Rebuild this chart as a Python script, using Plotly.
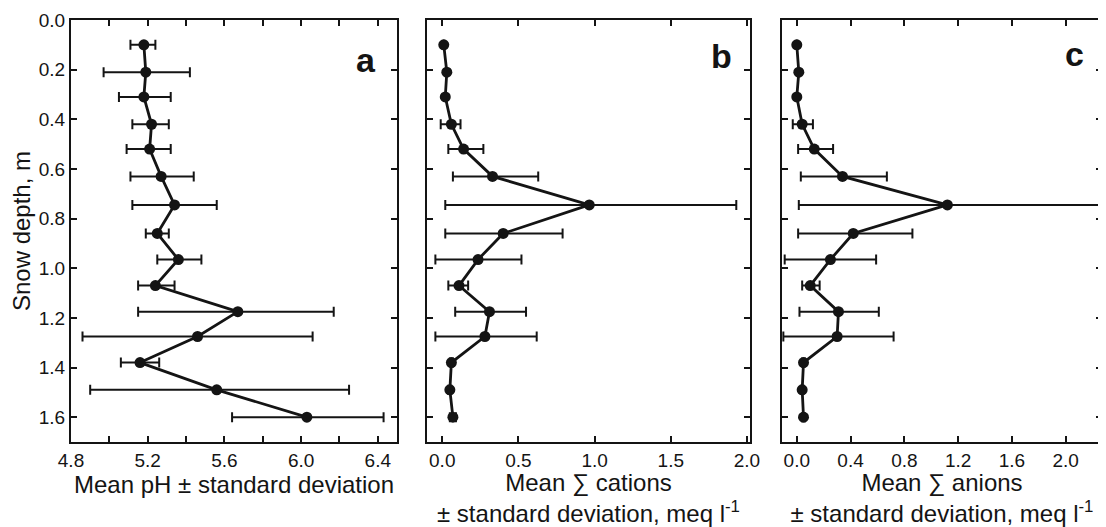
import numpy as np
import plotly.graph_objects as go

# ---- data ----
depth = [0.10, 0.21, 0.31, 0.42, 0.52, 0.63, 0.745, 0.86, 0.965, 1.07, 1.175, 1.275, 1.38, 1.49, 1.60]

ph_mean = [5.18, 5.19, 5.18, 5.22, 5.21, 5.27, 5.34, 5.25, 5.36, 5.24, 5.67, 5.46, 5.16, 5.56, 6.03]
ph_lo   = [5.11, 4.97, 5.05, 5.12, 5.09, 5.11, 5.12, 5.19, 5.25, 5.15, 5.15, 4.86, 5.06, 4.90, 5.64]
ph_hi   = [5.24, 5.42, 5.32, 5.31, 5.32, 5.44, 5.56, 5.31, 5.48, 5.34, 6.17, 6.06, 5.26, 6.25, 6.43]

cat_mean = [0.01, 0.03, 0.02, 0.06, 0.14, 0.33, 0.965, 0.40, 0.235, 0.11, 0.31, 0.28, 0.06, 0.05, 0.07]
cat_lo   = [0.01, 0.03, 0.02, -0.01, 0.04, 0.07, 0.02, 0.02, -0.045, 0.04, 0.085, -0.045, 0.05, 0.04, 0.05]
cat_hi   = [0.01, 0.03, 0.02, 0.12, 0.27, 0.63, 1.93, 0.79, 0.52, 0.17, 0.55, 0.62, 0.07, 0.06, 0.09]

an_mean = [0.00, 0.015, 0.00, 0.04, 0.13, 0.34, 1.12, 0.42, 0.25, 0.10, 0.31, 0.30, 0.05, 0.04, 0.05]
an_lo   = [0.00, 0.015, 0.00, -0.03, 0.01, 0.03, 0.015, 0.01, -0.09, 0.04, 0.02, -0.10, 0.04, 0.03, 0.04]
an_hi   = [0.00, 0.015, 0.00, 0.12, 0.27, 0.67, 2.25, 0.86, 0.59, 0.17, 0.61, 0.72, 0.06, 0.05, 0.06]

y_ticks = [0.0, 0.2, 0.4, 0.6, 0.8, 1.0, 1.2, 1.4, 1.6]
a_ticks = [4.8, 5.0, 5.2, 5.4, 5.6, 5.8, 6.0, 6.2, 6.4]
a_text = ["4.8", "", "5.2", "", "5.6", "", "6.0", "", "6.4"]
b_ticks = [0.0, 0.5, 1.0, 1.5, 2.0]
b_text = ["0.0", "0.5", "1.0", "1.5", "2.0"]
c_ticks = [0.0, 0.4, 0.8, 1.2, 1.6, 2.0]
c_text = ["0.0", "0.4", "0.8", "1.2", "1.6", "2.0"]

panel_letters = ["a", "b", "c"]
x_titles = ["Mean pH ± standard deviation",
            "Mean ∑ cations<br>± standard deviation, meq l<sup>-1</sup>",
            "Mean ∑ anions<br>± standard deviation, meq l<sup>-1</sup>"]

INK = "#141414"
FONT = "Liberation Sans, Arial, Helvetica, sans-serif"

# The page body adds an 8px offset; size the figure so it fills the window.
OFF = 8
W, H = 1106 - OFF, 527 - OFF


def dx(px):
    return (px - OFF) / W


def dy(py):
    return 1 - (py - OFF) / H


fig = go.Figure()

series = [(ph_mean, ph_lo, ph_hi), (cat_mean, cat_lo, cat_hi), (an_mean, an_lo, an_hi)]
for i, (m, lo, hi) in enumerate(series):
    m = np.array(m); lo = np.array(lo); hi = np.array(hi)
    sfx = "" if i == 0 else str(i + 1)
    fig.add_trace(go.Scatter(
        x=m, y=depth, mode="lines+markers",
        xaxis="x" + sfx, yaxis="y" + sfx,
        line=dict(color=INK, width=2.8),
        marker=dict(color=INK, size=11),
        error_x=dict(type="data", symmetric=False, array=hi - m, arrayminus=m - lo,
                     color=INK, thickness=2, width=5),
        showlegend=False,
    ))

domains = [(dx(71), dx(397)), (dx(427), dx(750)), (dx(782), dx(1102))]
ranges = [[4.8, 6.5], [-0.1, 2.02], [-0.11, 2.27]]
xticks = [(a_ticks, a_text), (b_ticks, b_text), (c_ticks, c_text)]
ydom = [dy(442), dy(20)]

axis_common = dict(showline=True, linecolor=INK, linewidth=2.2, mirror="ticks",
                   ticks="inside", ticklen=6, tickwidth=2, tickcolor=INK,
                   showgrid=False, zeroline=False, automargin=False,
                   ticklabeloverflow="allow",
                   tickfont=dict(family=FONT, size=19, color=INK))

layout = dict(width=W, height=H, margin=dict(l=0, r=0, t=0, b=0),
              paper_bgcolor="white", plot_bgcolor="white",
              font=dict(family=FONT, color=INK))

for i in range(3):
    sfx = "" if i == 0 else str(i + 1)
    tv, tt = xticks[i]
    layout["xaxis" + sfx] = dict(axis_common, domain=list(domains[i]), range=ranges[i],
                                 tickvals=tv, ticktext=tt, anchor="y" + sfx,
                                 title=dict(text=x_titles[i], standoff=3,
                                            font=dict(family=FONT, size=24, color=INK)))
    ya = dict(axis_common, domain=ydom, range=[1.7, 0], tickvals=y_ticks,
              anchor="x" + sfx)
    if i == 0:
        ya["ticktext"] = [f"{v:.1f}" for v in y_ticks]
        ya["title"] = dict(text="Snow depth, m", standoff=4,
                           font=dict(family=FONT, size=24, color=INK))
    else:
        ya["showticklabels"] = False
    layout["yaxis" + sfx] = ya

fig.update_layout(**layout)

letter_pos = [(0.905, 0.905), (0.913, 0.915), (0.913, 0.92)]
for i in range(3):
    sfx = "" if i == 0 else str(i + 1)
    fig.add_annotation(text=f"<b>{panel_letters[i]}</b>", showarrow=False,
                       xref=f"x{sfx} domain", yref=f"y{sfx} domain",
                       x=letter_pos[i][0], y=letter_pos[i][1],
                       xanchor="center", yanchor="middle",
                       font=dict(family=FONT, size=34, color=INK))

fig.write_html("out.html")
